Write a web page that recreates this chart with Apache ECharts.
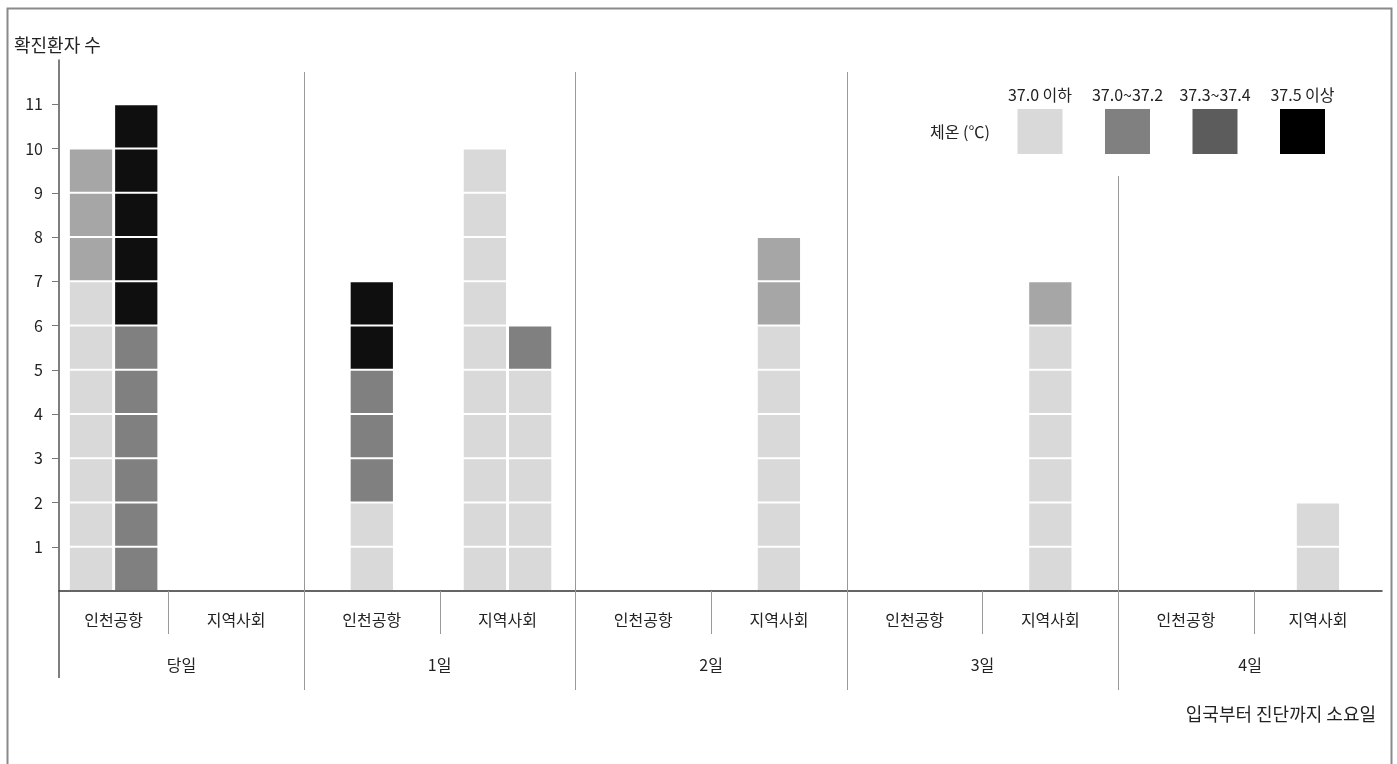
<!DOCTYPE html>
<html>
<head>
<meta charset="utf-8">
<script src="https://cdn.jsdelivr.net/npm/echarts@6/dist/echarts.min.js"></script>
<style>
html,body{margin:0;padding:0;background:#fff;}
#chart{width:1397px;height:764px;}
</style>
</head>
<body>
<div id="chart"></div>
<script>
// ---- data ----
const days = ['당일', '1일', '2일', '3일', '4일'];
const places = ['인천공항', '지역사회'];
const tempBands = ['37.0 이하', '37.0~37.2', '37.3~37.4', '37.5 이상'];
const yTicks = [1, 2, 3, 4, 5, 6, 7, 8, 9, 10, 11];
// one entry per column of unit squares
const colDay   = [0, 0, 1, 1, 1, 2, 3, 4];
const colPlace = [0, 0, 0, 1, 1, 1, 1, 1];
const band1 = [7, 0, 2, 10, 5, 6, 6, 2];   // 37.0 이하
const band2 = [3, 0, 0, 0, 0, 2, 1, 0];    // 37.0~37.2
const band3 = [0, 6, 3, 0, 1, 0, 0, 0];    // 37.3~37.4
const band4 = [0, 5, 2, 0, 0, 0, 0, 0];    // 37.5 이상

// ---- styles ----
const FONT = '"Noto Sans CJK KR", "Noto Sans", sans-serif';
const markColors = ['#d9d9d9', '#a6a6a6', '#808080', '#0f0f0f'];
const legendColors = ['#d9d9d9', '#808080', '#5c5c5c', '#000000'];
const XMIN = 0.195, XMAX = 9.944, YMAX = 12;

// ---- build squares ----
const bands = [band1, band2, band3, band4];
const nSub = days.length * places.length;
const colsPerSub = new Array(nSub).fill(0);
const colIndex = colDay.map((d, i) => {
  const k = d * places.length + colPlace[i];
  return colsPerSub[k]++;
});
const squares = [];
colDay.forEach((d, i) => {
  const k = d * places.length + colPlace[i];
  let y = 0;
  bands.forEach((arr, b) => {
    for (let j = 0; j < arr[i]; j++) {
      squares.push([k, colIndex[i], colsPerSub[k], y, b]);
      y++;
    }
  });
});

function subCenterPx(api, k) {
  const left = Math.max(k, XMIN), right = Math.min(k + 1, XMAX);
  return (api.coord([left, 0])[0] + api.coord([right, 0])[0]) / 2;
}

// structure: dividers and category labels
const structure = [];
for (let k = 1; k < nSub; k++) structure.push([k, k % 2 === 0 ? 1 : 0]);
const subLabels = [];
for (let d = 0; d < days.length; d++) places.forEach((p, j) => subLabels.push([d * places.length + j, d, j]));

const chart = echarts.init(document.getElementById('chart'));
const legendCenters = tempBands.map((_, i) => 1040 + i * 87.5);

const graphic = [
  { type: 'rect', left: 5, top: 6, shape: { width: 1384, height: 800 }, style: { fill: 'none', stroke: '#8a8a8a', lineWidth: 2 }, silent: true },
  { type: 'text', x: 960, y: 132, style: { text: '체온 (℃)', font: '16px ' + FONT, fill: '#222', align: 'center', verticalAlign: 'middle' } }
];
tempBands.forEach((t, i) => {
  graphic.push({ type: 'rect', shape: { x: legendCenters[i] - 22.5, y: 109, width: 45, height: 45 }, style: { fill: legendColors[i] } });
  graphic.push({ type: 'text', x: legendCenters[i], y: 95, style: { text: t, font: '16px ' + FONT, fill: '#222', align: 'center', verticalAlign: 'middle' } });
});

const option = {
  animation: false,
  backgroundColor: '#fff',
  textStyle: { fontFamily: FONT },
  title: [
    { text: '확진환자 수', left: 9, top: 31, textStyle: { fontSize: 18, fontWeight: 'normal', color: '#222', fontFamily: FONT } },
    { text: '입국부터 진단까지 소요일', right: 16, top: 700, textStyle: { fontSize: 18, fontWeight: 'normal', color: '#222', fontFamily: FONT } }
  ],
  grid: { left: 59, right: 1397 - 1382, top: 60, bottom: 764 - 591, containLabel: false },
  xAxis: {
    type: 'value', min: XMIN, max: XMAX,
    axisLine: { show: true, onZero: false, lineStyle: { color: '#333', width: 1.5 } },
    axisTick: { show: false }, axisLabel: { show: false }, splitLine: { show: false }
  },
  yAxis: {
    type: 'value', min: 0, max: YMAX, interval: 1,
    axisLine: { show: true, lineStyle: { color: '#555', width: 1.5 } },
    axisTick: { show: true, length: 7, customValues: yTicks, lineStyle: { color: '#777', width: 1 } },
    axisLabel: { customValues: yTicks, margin: 16, fontSize: 16, color: '#222', fontFamily: FONT,
      formatter: v => (v >= 1 && v <= 11 ? String(v) : '') },
    splitLine: { show: false }
  },
  graphic: graphic,
  series: [
    {
      type: 'custom', name: 'structure', silent: true, clip: false, z: 1,
      data: structure,
      renderItem: (params, api) => {
        const k = api.value(0), isGroup = api.value(1) === 1;
        const x = Math.round(api.coord([k, 0])[0]) + 0.5;
        const y0 = api.coord([0, 0])[1];
        let top = isGroup ? api.coord([0, 11.73])[1] : y0;
        if (isGroup && x > 900) top = 176; // line resumes below the legend
        const bottom = isGroup ? y0 + 99 : y0 + 43;
        return { type: 'line', shape: { x1: x, y1: top, x2: x, y2: bottom }, style: { stroke: '#999', lineWidth: 1 } };
      }
    },
    {
      type: 'custom', name: 'yAxisExt', silent: true, clip: false, z: 1,
      data: [[0]],
      renderItem: (params, api) => {
        const p = api.coord([XMIN, 0]);
        return { type: 'line', shape: { x1: p[0], y1: p[1], x2: p[0], y2: p[1] + 87 }, style: { stroke: '#555', lineWidth: 1.5 } };
      }
    },
    {
      type: 'custom', name: 'subLabels', silent: true, clip: false, z: 2,
      data: subLabels,
      renderItem: (params, api) => {
        const k = api.value(0), j = api.value(2);
        const y0 = api.coord([0, 0])[1];
        return { type: 'text', x: subCenterPx(api, k), y: y0 + 29,
          style: { text: places[j], font: '16px ' + FONT, fill: '#222', align: 'center', verticalAlign: 'middle' } };
      }
    },
    {
      type: 'custom', name: 'dayLabels', silent: true, clip: false, z: 2,
      data: days.map((d, i) => [i]),
      renderItem: (params, api) => {
        const d = api.value(0);
        const l = Math.max(d * 2, XMIN), r = Math.min(d * 2 + 2, XMAX);
        const x = (api.coord([l, 0])[0] + api.coord([r, 0])[0]) / 2;
        const y0 = api.coord([0, 0])[1];
        return { type: 'text', x: x, y: y0 + 74,
          style: { text: days[d], font: '16px ' + FONT, fill: '#222', align: 'center', verticalAlign: 'middle' } };
      }
    },
    {
      type: 'custom', name: '확진환자', clip: false, z: 3,
      data: squares,
      encode: { x: 0, y: 3 },
      renderItem: (params, api) => {
        const k = api.value(0), c = api.value(1), n = api.value(2), y0 = api.value(3), b = api.value(4);
        const unit = api.size([0, 1])[1];
        const pitch = unit + 1;
        const side = unit - 2;
        const cx = subCenterPx(api, k) + (c - (n - 1) / 2) * pitch;
        const yb = api.coord([0, y0])[1];
        return { type: 'rect', shape: { x: cx - side / 2, y: yb - 1 - side, width: side, height: side }, style: { fill: markColors[b] } };
      }
    }
  ]
};
chart.setOption(option);
</script>
</body>
</html>
